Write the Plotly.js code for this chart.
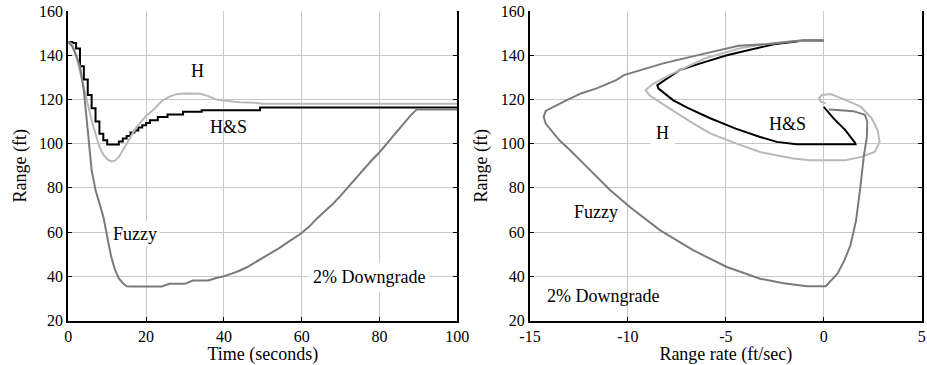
<!DOCTYPE html>
<html>
<head>
<meta charset="utf-8">
<script src="https://cdn.plot.ly/plotly-3.0.1.min.js"></script>
<style>html,body{margin:0;padding:0;background:#fff;}#chart{width:927px;height:365px;}</style>
</head>
<body>
<div id="chart"></div>
<script>
// ---- Left panel: range vs time ----
const timeHS  = [0,1,2,3,4,5,6,7,8,9,10,11,12,13,14,15,16,17,18,19,20,21,23,25.5,29.5,34.3,49.3,100];
const rangeHS = [146,145.5,143,135,129,122,116,110,104.5,101.5,99.6,99.6,99.6,101,102.3,103.5,105,106,107.3,108.3,109.3,110.6,112.1,113.2,114.4,115.1,116.4,116.4];

const timeH  = [0,1,2,3,4,5,6,7,8,9,10,11,12,13,14,15,16,17,18,19,20,22,24,26,28,30,32,34,36,38,40,42,44,46,48,50,100];
const rangeH = [146,145,140,133,126,118,110.5,104,98.5,95,93,92,92.3,94,97,100.5,103.5,106,108.5,110.5,112.5,115.5,119.3,121.3,122.5,122.7,122.7,122.6,121.5,120,119.5,119,118.7,118.6,118.5,118,118];

const timeFuzzy  = [0,1,2,3,4,5,6,7,8,9,10,11,12,13,14,15,16,20,24,26,30,32,36,38,40,42,44,46,48,50,52,54,56,58,60,62,64,66,68,70,72,74,76,78,80,82,84,86,88,89.6,100];
const rangeFuzzy = [146,144,140,135,124,105,88,79,73,67,58,49,43,39,37,35.5,35.4,35.4,35.4,36.6,36.6,38.1,38.1,39.2,40,41.2,42.5,44.2,46.3,48.2,50.3,52.5,54.9,57.4,59.6,62.6,66.3,69.5,72.7,76.5,80.5,84.7,88.6,92.5,96.1,100.4,104.6,108.9,112.8,115.5,115.5];

// ---- Right panel: range vs range rate (phase plane) ----
const rateHS  = [0,-1.0,-2.55,-4.9,-6.3,-7.35,-8.5,-8.45,-7.7,-6.95,-5.8,-4.5,-3.25,-2.4,-1.4,1.62,1.6,1.1,0.5,0.1,0];
const phaseHS = [146.6,146.6,145,140.1,136.3,133.3,126.5,125,119.7,116.2,111.5,106.8,103,100.8,99.7,99.7,100.3,106.1,111.4,115.9,116.6];

const rateH  = [0,-1.5,-3,-4.3,-6.05,-7.7,-8.7,-9.1,-8.9,-8.0,-6.65,-5.8,-4.45,-3.25,-1.55,-0.7,1.1,1.9,2.6,2.85,2.75,2.45,1.9,1.1,0.35,-0.1,-0.25,-0.15,0.1];
const phaseH = [146.6,146.4,145,143.1,138.6,131.8,127.2,124.2,121.9,116.6,109.1,104.6,100,96.2,93.3,92.5,92.5,94,96.2,100.8,106.1,111.4,116.6,119.8,122.4,122,120.5,119,118.2];

const rateFuzzy  = [0,-1.2,-2.9,-4.35,-6.2,-8.2,-10.2,-10.6,-11.6,-12.4,-13.3,-14.2,-14.3,-14.2,-13.5,-12.95,-12.1,-10.9,-9.9,-8.35,-6.65,-4.95,-3.25,-2.05,-0.85,0.1,0.7,1.05,1.36,1.65,1.87,2.04,2.2,2.22,2.1,1.5,0.68,0.26];
const phaseFuzzy = [146.6,146.6,145,144.3,140.5,136.3,131,128.7,125,122.7,118.9,114.8,112.1,109.1,101.5,97,89.5,78.9,71.3,60.8,51.7,44.2,38.9,36.9,35.5,35.5,41.2,47.2,54,65.3,80.4,94,103,110,113,114.7,115.2,115.5];

const xTicksLeft = [0,20,40,60,80,100];
const xTicksRight = [-15,-10,-5,0,5];
const xTickTextRight = ['-15','-10','-5','0','5'];
const yTicks = [20,40,60,80,100,120,140,160];

const cBlack = '#000000', cLight = '#b9b9b9', cDark = '#7b7b7b';
const FONT = 'Liberation Serif';

const traces = [
  {x: timeHS, y: rangeHS, mode:'lines', line:{color:cBlack, width:2, shape:'hv'}, xaxis:'x', yaxis:'y'},
  {x: timeH, y: rangeH, mode:'lines', line:{color:cLight, width:2}, xaxis:'x', yaxis:'y'},
  {x: timeFuzzy, y: rangeFuzzy, mode:'lines', line:{color:cDark, width:2}, xaxis:'x', yaxis:'y'},
  {x: rateHS, y: phaseHS, mode:'lines', line:{color:cBlack, width:2}, xaxis:'x2', yaxis:'y2'},
  {x: rateH, y: phaseH, mode:'lines', line:{color:cLight, width:2}, xaxis:'x2', yaxis:'y2'},
  {x: rateFuzzy, y: phaseFuzzy, mode:'lines', line:{color:cDark, width:2}, xaxis:'x2', yaxis:'y2'}
];

const axBase = {
  showgrid:true, gridcolor:'#c8c8c8', gridwidth:1, zeroline:false,
  showline:true, linecolor:'#000', linewidth:2,
  ticks:'inside', ticklen:4, tickcolor:'#000', tickwidth:1,
  tickfont:{family:FONT, size:16, color:'#000'},
  fixedrange:true
};
const yDom = [1-320.5/365, 1-11/365];
const tf = {family:FONT, size:18, color:'#000'};

const layout = {
  width:927, height:365, autosize:false,
  margin:{l:0,r:0,t:0,b:0},
  paper_bgcolor:'#fff', plot_bgcolor:'#fff',
  showlegend:false,
  font:{family:FONT, color:'#000'},
  xaxis: Object.assign({}, axBase, {domain:[68.3/927, 457.3/927], range:[0,100], tickvals:xTicksLeft, anchor:'y',
    title:{text:'Time (seconds)', font:tf, standoff:4}}),
  yaxis: Object.assign({}, axBase, {domain:yDom, range:[20,160], tickvals:yTicks, anchor:'x', mirror:'ticks',
    title:{text:'Range (ft)', font:tf, standoff:8}}),
  xaxis2: Object.assign({}, axBase, {domain:[530/927, 921.7/927], range:[-15,5], tickvals:xTicksRight, ticktext:xTickTextRight, anchor:'y2',
    title:{text:'Range rate (ft/sec)', font:tf, standoff:4}}),
  yaxis2: Object.assign({}, axBase, {domain:yDom, range:[20,160], tickvals:yTicks, anchor:'x2', mirror:'ticks',
    title:{text:'Range (ft)', font:tf, standoff:8}}),
  annotations: [
    {xref:'x', yref:'y', x:33.3, y:132.8, text:'H', showarrow:false, font:tf},
    {xref:'x', yref:'y', x:41.2, y:107.6, text:'H&S', showarrow:false, font:tf},
    {xref:'x', yref:'y', x:17.1, y:59.3, text:'Fuzzy', showarrow:false, bgcolor:'#fff', borderpad:2, font:tf},
    {xref:'x', yref:'y', x:77.3, y:39.6, text:'2% Downgrade', showarrow:false, bgcolor:'#fff', borderpad:4, font:tf},
    {xref:'x2', yref:'y2', x:-8.26, y:105, text:'H', showarrow:false, bgcolor:'#fff', borderpad:5, font:tf},
    {xref:'x2', yref:'y2', x:-1.87, y:108.7, text:'H&S', showarrow:false, font:tf},
    {xref:'x2', yref:'y2', x:-11.62, y:69.1, text:'Fuzzy', showarrow:false, font:tf},
    {xref:'x2', yref:'y2', x:-11.25, y:31.3, text:'2% Downgrade', showarrow:false, font:tf}
  ]
};

Plotly.newPlot('chart', traces, layout, {staticPlot:true, displayModeBar:false});
</script>
</body>
</html>
